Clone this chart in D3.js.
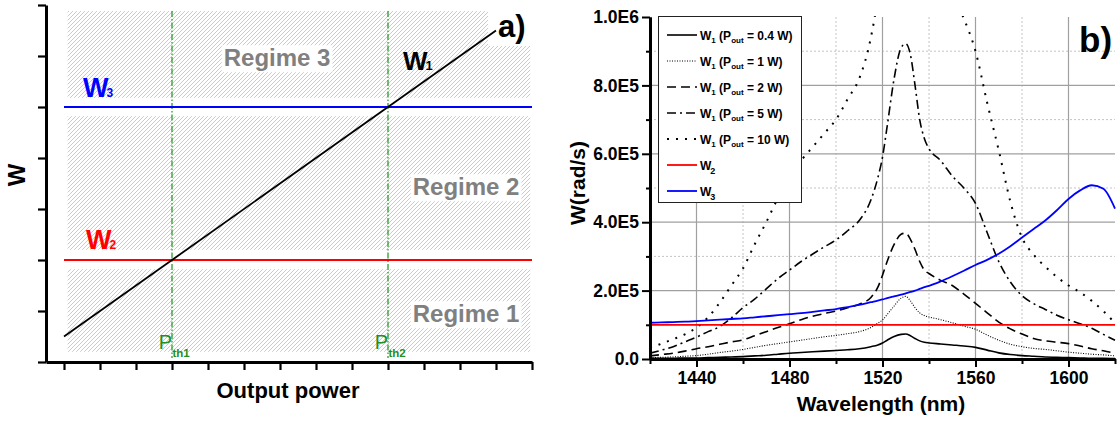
<!DOCTYPE html>
<html>
<head>
<meta charset="utf-8">
<script src="https://d3js.org/d3.v7.min.js"></script>
<style>
body { margin: 0; background: #fff; }
svg { font-family: Arial, "Liberation Sans", sans-serif; }
</style>
</head>
<body>
<svg id="chart" width="1118" height="421"></svg>
<script>
// ---------- panel a) data (arbitrary units) ----------
var powerTicks = [0, 1, 2, 3, 4, 5, 6, 7, 8, 9, 10, 11, 12, 13];
var omegaTicks = [0, 1, 2, 3, 4, 5, 6, 7];
var outputPower = [0, 12];
var omega1Line = [0.5, 6.5];
var omega2Level = 2;
var omega3Level = 5;
var thresholds = [3, 9];
var thresholdNames = ["th1", "th2"];
var regimeNames = ["Regime 1", "Regime 2", "Regime 3"];
var regimeBands = [[0.2, 1.82], [2.2, 4.82], [5.18, 6.88]];

// ---------- panel b) data (omega in units of 1E5 rad/s) ----------
var wavelength = [1420, 1425, 1430, 1435, 1440, 1445, 1450, 1455, 1460, 1465, 1470, 1475, 1480, 1485, 1490, 1495,
    1500, 1505, 1510, 1515, 1518, 1520, 1522, 1525, 1528, 1530, 1532, 1534, 1536, 1538, 1540, 1545, 1550, 1555,
    1560, 1565, 1570, 1575, 1580, 1585, 1590, 1595, 1600, 1605, 1610, 1615, 1620];
var w1P04 = [0.02, 0.02, 0.02, 0.03, 0.03, 0.04, 0.05, 0.06, 0.07, 0.09, 0.11, 0.14, 0.17, 0.19, 0.21, 0.23,
    0.25, 0.27, 0.30, 0.36, 0.41, 0.47, 0.55, 0.66, 0.72, 0.73, 0.68, 0.60, 0.53, 0.49, 0.47, 0.44, 0.41, 0.38,
    0.34, 0.26, 0.18, 0.13, 0.10, 0.08, 0.06, 0.05, 0.04, 0.03, 0.02, 0.02, 0.01];
var w1P1 = [0.04, 0.05, 0.06, 0.08, 0.10, 0.14, 0.19, 0.23, 0.28, 0.34, 0.40, 0.45, 0.50, 0.55, 0.60, 0.65,
    0.69, 0.74, 0.80, 0.92, 1.05, 1.14, 1.30, 1.55, 1.78, 1.83, 1.70, 1.50, 1.35, 1.27, 1.23, 1.15, 1.06, 0.96,
    0.87, 0.70, 0.55, 0.43, 0.36, 0.31, 0.28, 0.24, 0.20, 0.17, 0.14, 0.12, 0.09];
var w1P2 = [0.09, 0.13, 0.17, 0.23, 0.30, 0.36, 0.43, 0.50, 0.56, 0.68, 0.80, 0.92, 1.03, 1.15, 1.25, 1.33,
    1.40, 1.50, 1.60, 1.80, 2.10, 2.45, 2.85, 3.35, 3.65, 3.68, 3.50, 3.20, 2.85, 2.60, 2.50, 2.30, 2.15, 1.90,
    1.63, 1.35, 1.08, 0.88, 0.73, 0.60, 0.53, 0.49, 0.45, 0.38, 0.30, 0.24, 0.17];
var w1P5 = [0.17, 0.26, 0.36, 0.50, 0.64, 0.80, 0.95, 1.20, 1.50, 1.75, 2.05, 2.35, 2.60, 2.85, 3.07, 3.28,
    3.48, 3.75, 4.05, 4.65, 5.30, 5.90, 6.80, 8.20, 9.10, 9.22, 8.90, 8.00, 7.00, 6.45, 6.15, 5.80, 5.35, 5.00,
    4.55, 3.70, 2.85, 2.25, 1.85, 1.62, 1.45, 1.28, 1.15, 1.03, 0.90, 0.72, 0.55];
var w1P10 = [0.33, 0.45, 0.58, 0.72, 0.92, 1.22, 1.65, 2.15, 2.65, 3.35, 4.00, 4.70, 5.30, 5.80, 6.20, 6.60,
    7.00, 7.60, 8.20, 9.40, 10.6, 11.8, 13.6, 16.4, 18.2, 18.4, 17.8, 16.0, 14.0, 12.9, 12.3, 11.6, 10.7, 9.95,
    9.00, 7.50, 6.10, 4.60, 3.55, 3.05, 2.70, 2.40, 2.15, 1.95, 1.70, 1.40, 1.05];
var w2 = [1.0, 1.0];
var w2Wavelength = [1420, 1620];
var w3 = [1.06, 1.07, 1.08, 1.09, 1.11, 1.13, 1.15, 1.17, 1.19, 1.22, 1.25, 1.28, 1.31, 1.34, 1.38, 1.42,
    1.46, 1.52, 1.58, 1.66, 1.71, 1.74, 1.78, 1.83, 1.88, 1.92, 1.96, 2.00, 2.05, 2.10, 2.14, 2.27, 2.42, 2.58,
    2.75, 2.90, 3.08, 3.30, 3.55, 3.80, 4.05, 4.35, 4.68, 4.93, 5.08, 4.98, 4.40];
var powerLabels = ["0.4", "1", "2", "5", "10"];
var xMajorTicks = [1440, 1480, 1520, 1560, 1600];
var xMinorTicks = [1420, 1460, 1500, 1540, 1580, 1620];
var yMajorTicks = [0, 2, 4, 6, 8, 10];
var yMinorTicks = [1, 3, 5, 7, 9];
var yTickLabels = ["0.0", "2.0E5", "4.0E5", "6.0E5", "8.0E5", "1.0E6"];

var svg = d3.select("#chart");

// hatch pattern for the regime bands
var defs = svg.append("defs");
defs.append("pattern")
    .attr("id", "hatch")
    .attr("patternUnits", "userSpaceOnUse")
    .attr("width", 4).attr("height", 4)
    .append("path")
    .attr("d", "M-1,1 l2,-2 M0,4 l4,-4 M3,5 l2,-2")
    .attr("stroke", "#bdbdbd")
    .attr("stroke-width", 0.8);

// adds tspans to a text element, parts = [[string, isSubscript], ...]
function addParts(text, parts, subSize, subShift, subDx) {
    parts.forEach(function(p, i) {
        var t = text.append("tspan").text(p[0]);
        if (p[1]) {
            t.attr("font-size", subSize).attr("dy", subShift);
            if (subDx) t.attr("dx", subDx);
        } else if (i > 0 && parts[i - 1][1]) {
            // back to the baseline after a subscript
            t.attr("dy", -subShift);
        }
    });
}

// =============== panel a) ===============
function buildPanelA() {
    var xL = d3.scaleLinear().domain([-0.5, 13]).range([46, 532]);
    var yL = d3.scaleLinear().domain([0, 7]).range([362, 5]);
    var g = svg.append("g");

    g.selectAll(".band")
        .data(regimeBands)
        .enter()
        .append("rect")
        .attr("x", xL(0.1))
        .attr("width", xL(12.95) - xL(0.1))
        .attr("y", function(d) { return yL(d[1]); })
        .attr("height", function(d) { return yL(d[0]) - yL(d[1]); })
        .attr("fill", "url(#hatch)");

    // regime labels with white boxes
    var regimePos = [[11.17, 0.78], [11.17, 3.27], [5.92, 5.8]];
    regimeNames.forEach(function(name, i) {
        var t = g.append("text")
            .attr("x", xL(regimePos[i][0]))
            .attr("y", yL(regimePos[i][1]))
            .attr("text-anchor", "middle")
            .attr("font-size", 24)
            .attr("font-weight", "bold")
            .attr("fill", "#808080")
            .text(name);
        var bb = t.node().getBBox();
        g.insert("rect", function() { return t.node(); })
            .attr("x", bb.x - 2).attr("y", bb.y + 1)
            .attr("width", bb.width + 4).attr("height", bb.height)
            .attr("fill", "#fff");
    });

    // "a)" label
    g.append("rect").attr("x", 488).attr("y", 8).attr("width", 44).attr("height", 38).attr("fill", "#fff");
    g.append("text").attr("x", 498).attr("y", 37)
        .attr("font-size", 31).attr("font-weight", "bold").text("a)");

    // threshold lines
    g.selectAll(".thr")
        .data(thresholds)
        .enter()
        .append("line")
        .attr("x1", function(d) { return xL(d); })
        .attr("x2", function(d) { return xL(d); })
        .attr("y1", yL(6.88))
        .attr("y2", yL(0.08))
        .attr("stroke", "#1f8f1f")
        .attr("stroke-width", 1.2)
        .attr("stroke-dasharray", "6,2,1.5,2");

    thresholds.forEach(function(d, i) {
        g.append("text").attr("x", xL(d)).attr("y", 349)
            .attr("text-anchor", "end").attr("font-size", 20).attr("fill", "#1f8f1f").text("P");
        g.append("text").attr("x", xL(d) + 0.5).attr("y", 357)
            .attr("font-size", 11.5).attr("font-weight", "bold").attr("fill", "#1f8f1f").text(thresholdNames[i]);
    });

    // omega2 and omega3 levels
    g.append("line")
        .attr("x1", xL(0)).attr("x2", xL(13))
        .attr("y1", yL(omega2Level)).attr("y2", yL(omega2Level))
        .attr("stroke", "#ff0000").attr("stroke-width", 1.8);
    g.append("line")
        .attr("x1", xL(0)).attr("x2", xL(13))
        .attr("y1", yL(omega3Level)).attr("y2", yL(omega3Level))
        .attr("stroke", "#0000ff").attr("stroke-width", 1.8);

    // omega1 line
    var pts = outputPower.map(function(p, i) { return [xL(p), yL(omega1Line[i])]; });
    g.append("path")
        .attr("d", d3.line()(pts))
        .attr("stroke", "#000").attr("stroke-width", 1.8).attr("fill", "none");

    // curve labels
    var w3t = g.append("text").attr("x", 83).attr("y", 97)
        .attr("font-size", 27).attr("font-weight", "bold").attr("fill", "#0000ff");
    addParts(w3t, [["W", false], ["3", true]], 12, 0, -2);
    var w2t = g.append("text").attr("x", 86).attr("y", 249)
        .attr("font-size", 27).attr("font-weight", "bold").attr("fill", "#ff0000");
    addParts(w2t, [["W", false], ["2", true]], 12, 0, -2);
    var w1t = g.append("text").attr("x", 403).attr("y", 70)
        .attr("font-size", 26).attr("font-weight", "bold").attr("fill", "#000");
    addParts(w1t, [["W", false], ["1", true]], 13, 0, -2);

    // axes
    var yAxis = d3.axisLeft(yL).tickValues(omegaTicks).tickSize(8).tickSizeOuter(0).tickFormat("");
    var xAxis = d3.axisBottom(xL).tickValues(powerTicks).tickSize(8).tickSizeOuter(0).tickFormat("");
    var ya = g.append("g").attr("transform", "translate(46,0)").call(yAxis);
    var xa = g.append("g").attr("transform", "translate(0,362)").call(xAxis);
    [ya, xa].forEach(function(a) {
        a.select(".domain").attr("stroke-width", 3);
        a.selectAll(".tick line").attr("stroke-width", 2.2);
    });

    g.append("text")
        .attr("transform", "translate(25,175) rotate(-90)")
        .attr("text-anchor", "middle")
        .attr("font-size", 24).attr("font-weight", "bold").text("W");
    g.append("text")
        .attr("x", 288).attr("y", 398)
        .attr("text-anchor", "middle")
        .attr("font-size", 22).attr("font-weight", "bold").text("Output power");
}

// =============== panel b) ===============
function buildPanelB() {
    var xR = d3.scaleLinear().domain([1420, 1620]).range([650, 1115]);
    var yR = d3.scaleLinear().domain([0, 10]).range([359, 17]);
    var g = svg.append("g");

    defs.append("clipPath").attr("id", "plotclip")
        .append("rect").attr("x", 650).attr("y", 16).attr("width", 466).attr("height", 344);

    // grid
    g.selectAll(".vmin").data(xMinorTicks.slice(1, -1)).enter().append("line")
        .attr("x1", function(d) { return xR(d); }).attr("x2", function(d) { return xR(d); })
        .attr("y1", yR(10)).attr("y2", yR(0))
        .attr("stroke", "#c4c4c4").attr("stroke-width", 1).attr("stroke-dasharray", "2,2");
    g.selectAll(".hmin").data(yMinorTicks).enter().append("line")
        .attr("x1", xR(1420)).attr("x2", xR(1620))
        .attr("y1", function(d) { return yR(d); }).attr("y2", function(d) { return yR(d); })
        .attr("stroke", "#c4c4c4").attr("stroke-width", 1).attr("stroke-dasharray", "2,2");
    g.selectAll(".vmaj").data(xMajorTicks).enter().append("line")
        .attr("x1", function(d) { return xR(d); }).attr("x2", function(d) { return xR(d); })
        .attr("y1", yR(10)).attr("y2", yR(0))
        .attr("stroke", "#a0a0a0").attr("stroke-width", 1.2);
    g.selectAll(".hmaj").data(yMajorTicks.slice(1, -1)).enter().append("line")
        .attr("x1", xR(1420)).attr("x2", xR(1620))
        .attr("y1", function(d) { return yR(d); }).attr("y2", function(d) { return yR(d); })
        .attr("stroke", "#a0a0a0").attr("stroke-width", 1.2);

    // series
    var series = [
        { x: wavelength, y: w1P04, color: "#000", dash: null, width: 1.6 },
        { x: wavelength, y: w1P1, color: "#000", dash: "1,1.5", width: 1.1 },
        { x: wavelength, y: w1P2, color: "#000", dash: "9,5", width: 1.6 },
        { x: wavelength, y: w1P5, color: "#000", dash: "9,4,2,4", width: 1.6 },
        { x: wavelength, y: w1P10, color: "#000", dash: "2,7", width: 2 },
        { x: w2Wavelength, y: w2, color: "#ff0000", dash: null, width: 1.8 },
        { x: wavelength, y: w3, color: "#0000ff", dash: null, width: 1.8 }
    ];

    var line = d3.line()
        .x(function(d) { return xR(d[0]); })
        .y(function(d) { return yR(d[1]); })
        .curve(d3.curveMonotoneX);

    var plot = g.append("g").attr("clip-path", "url(#plotclip)");
    series.forEach(function(s) {
        var pts = s.x.map(function(v, i) { return [v, s.y[i]]; });
        plot.append("path")
            .attr("d", line(pts))
            .attr("fill", "none")
            .attr("stroke", s.color)
            .attr("stroke-width", s.width)
            .attr("stroke-dasharray", s.dash);
    });

    // axes
    var yAxis = d3.axisLeft(yR).tickValues(yMajorTicks).tickSize(8).tickSizeOuter(0).tickPadding(3)
        .tickFormat(function(d, i) { return yTickLabels[i]; });
    var yMinor = d3.axisLeft(yR).tickValues(yMinorTicks).tickSize(4).tickSizeOuter(0).tickFormat("");
    var xAxis = d3.axisBottom(xR).tickValues(xMajorTicks).tickSize(8).tickSizeOuter(0).tickPadding(5)
        .tickFormat(d3.format("d"));
    var xMinor = d3.axisBottom(xR).tickValues(xMinorTicks).tickSize(5).tickSizeOuter(0).tickFormat("");

    var axes = [
        g.append("g").attr("transform", "translate(650,0)").call(yMinor),
        g.append("g").attr("transform", "translate(650,0)").call(yAxis),
        g.append("g").attr("transform", "translate(0,359)").call(xMinor),
        g.append("g").attr("transform", "translate(0,359)").call(xAxis)
    ];
    axes.forEach(function(a) {
        a.select(".domain").attr("stroke-width", 3);
        a.selectAll(".tick line").attr("stroke-width", 2);
        a.selectAll(".tick text")
            .attr("font-family", "Arial, 'Liberation Sans', sans-serif")
            .attr("font-size", 17.5).attr("font-weight", "bold").attr("fill", "#000");
    });

    g.append("text")
        .attr("transform", "translate(585,183) rotate(-90)")
        .attr("text-anchor", "middle")
        .attr("font-size", 21).attr("font-weight", "bold").text("W(rad/s)");
    g.append("text")
        .attr("x", 881).attr("y", 411)
        .attr("text-anchor", "middle")
        .attr("font-size", 21).attr("font-weight", "bold").text("Wavelength (nm)");

    g.append("text").attr("x", 1079).attr("y", 52)
        .attr("font-size", 35).attr("font-weight", "bold").text("b)");

    // legend
    var lg = g.append("g");
    lg.append("rect").attr("x", 658.5).attr("y", 16.5).attr("width", 143).attr("height", 186)
        .attr("fill", "#fff").attr("stroke", "#222").attr("stroke-width", 1);
    series.forEach(function(s, i) {
        var cy = 35 + i * 26;
        lg.append("line")
            .attr("x1", 667).attr("x2", 697).attr("y1", cy).attr("y2", cy)
            .attr("stroke", s.color).attr("stroke-width", s.width)
            .attr("stroke-dasharray", s.dash);
        var t = lg.append("text").attr("x", 700).attr("y", cy + 4.5)
            .attr("font-size", 12).attr("font-weight", "bold");
        if (i < 5) {
            addParts(t, [["W", false], ["1", true], [" (P", false], ["out", true],
                [" = " + powerLabels[i] + " W)", false]], 8, 3, null);
        } else {
            addParts(t, [["W", false], [i == 5 ? "2" : "3", true]], 9, 4, -1);
        }
    });
}

buildPanelA();
buildPanelB();
</script>
</body>
</html>
